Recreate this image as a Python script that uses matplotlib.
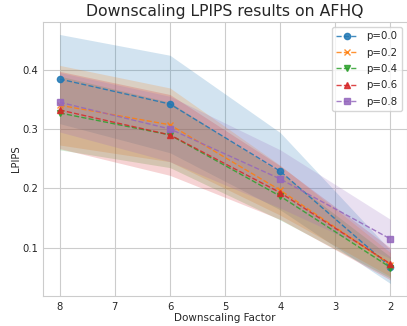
import matplotlib
matplotlib.use("Agg")
import matplotlib.pyplot as plt
import seaborn as sns

sns.set_style("whitegrid")

factors = [8, 6, 4, 2]
labels = ["p=0.0", "p=0.2", "p=0.4", "p=0.6", "p=0.8"]
means = {
    "p=0.0": [0.384, 0.342, 0.229, 0.068],
    "p=0.2": [0.340, 0.307, 0.197, 0.072],
    "p=0.4": [0.327, 0.290, 0.187, 0.067],
    "p=0.6": [0.332, 0.290, 0.193, 0.073],
    "p=0.8": [0.345, 0.300, 0.216, 0.115],
}
stds = {
    "p=0.0": [0.075, 0.082, 0.065, 0.028],
    "p=0.2": [0.067, 0.062, 0.042, 0.020],
    "p=0.4": [0.062, 0.055, 0.040, 0.018],
    "p=0.6": [0.065, 0.068, 0.045, 0.027],
    "p=0.8": [0.050, 0.055, 0.049, 0.033],
}
markers = ["o", "x", "v", "^", "s"]
colors = ["#1f77b4", "#ff7f0e", "#2ca02c", "#d62728", "#9467bd"]

fig, ax = plt.subplots(figsize=(4.07, 3.26), dpi=100)
for lab, mk, c in zip(labels, markers, colors):
    m = means[lab]
    s = stds[lab]
    lo = [a - b for a, b in zip(m, s)]
    hi = [a + b for a, b in zip(m, s)]
    ax.plot(factors, m, linestyle="--", marker=mk, color=c, linewidth=1,
            markersize=4.5, alpha=0.85, label=lab)
    ax.fill_between(factors, lo, hi, color=c, alpha=0.2, linewidth=0)

ax.invert_xaxis()
ax.set_title("Downscaling LPIPS results on AFHQ", fontsize=11.3, pad=4)
ax.set_xlabel("Downscaling Factor", fontsize=7.5, labelpad=0.5)
ax.set_ylabel("LPIPS", fontsize=7.2, labelpad=1)
ax.tick_params(axis="x", labelsize=7.2, length=0, pad=4.3)
ax.tick_params(axis="y", labelsize=7.2, length=0, pad=3.3)
ax.legend(loc="upper right", fontsize=7.4, handlelength=2.2, labelspacing=0.62)
fig.subplots_adjust(left=0.106, right=1.0, top=0.9325, bottom=0.092)
fig.savefig("out.png", dpi=100)
